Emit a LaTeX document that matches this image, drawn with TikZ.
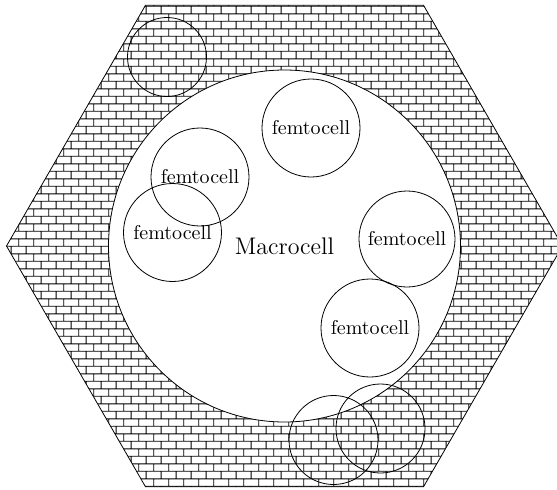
\documentclass[tikz,border=0pt]{standalone}
\usepackage{amsmath,amssymb}
\usepackage{tikz}
\usetikzlibrary{patterns,positioning,calc}

% finer brick wall than the stock one
\pgfdeclarepatternformonly{wallbricks}{\pgfpointorigin}{\pgfpoint{7.7pt}{7.7pt}}{\pgfpoint{7.7pt}{7.7pt}}
{
  \pgfsetlinewidth{0.4pt}
  \pgfpathmoveto{\pgfpoint{0pt}{1.925pt}}
  \pgfpathlineto{\pgfpoint{7.7pt}{1.925pt}}
  \pgfpathmoveto{\pgfpoint{0pt}{5.775pt}}
  \pgfpathlineto{\pgfpoint{7.7pt}{5.775pt}}
  \pgfpathmoveto{\pgfpoint{1.925pt}{1.925pt}}
  \pgfpathlineto{\pgfpoint{1.925pt}{5.775pt}}
  \pgfpathmoveto{\pgfpoint{5.775pt}{5.775pt}}
  \pgfpathlineto{\pgfpoint{5.775pt}{7.7pt}}
  \pgfpathmoveto{\pgfpoint{5.775pt}{0pt}}
  \pgfpathlineto{\pgfpoint{5.775pt}{1.925pt}}
  \pgfusepath{stroke}
}

\begin{document}
\begin{tikzpicture}[x=1pt,y=1pt,
    femto/.style={draw,circle,inner sep=0pt,minimum size=49pt},
    spot/.style={draw,circle,inner sep=0pt}]
      \useasboundingbox (-142.25,-121.5) rectangle (136.25,123);
      \coordinate (o) at (0,0);
      \coordinate (f1) at (13.25,59);
      \coordinate (f2) at (-42.25,34.5);
      \coordinate (f3) at (-56,6.75);
      \coordinate (f4) at (61.25,3.5);
      \coordinate (f5) at (42.75,-41);
      \coordinate (s1) at (-58.75,94.5);
      \coordinate (s2) at (24.5,-97);
      \coordinate (s3) at (48,-91.25);

      % hexagon of the macro cell
      \draw[pattern=wallbricks] (0:139) -- (60:139) -- (120:139) -- (180:139)
        -- (240:139) -- (300:139) -- cycle;
      \node[draw,circle,fill=white,inner sep=0pt,minimum size=176pt] (mc) at (o) {};
      \node (mt) at (o) {\large Macrocell};

      \node[femto] (fa) at (f1) {femtocell};
      \node[femto] (fb) at (f2) {femtocell};
      \node[femto] (fc) at (f3) {femtocell};
      \node[femto,minimum size=48pt] (fd) at (f4) {femtocell};
      \node[femto] (fe) at (f5) {femtocell};

      \node[spot,minimum size=39.5pt] (sa) at (s1) {};
      \node[spot,minimum size=44.5pt] (sb) at (s2) {};
      \node[spot,minimum size=44.5pt] (sc) at (s3) {};
    \end{tikzpicture}
\end{document}
